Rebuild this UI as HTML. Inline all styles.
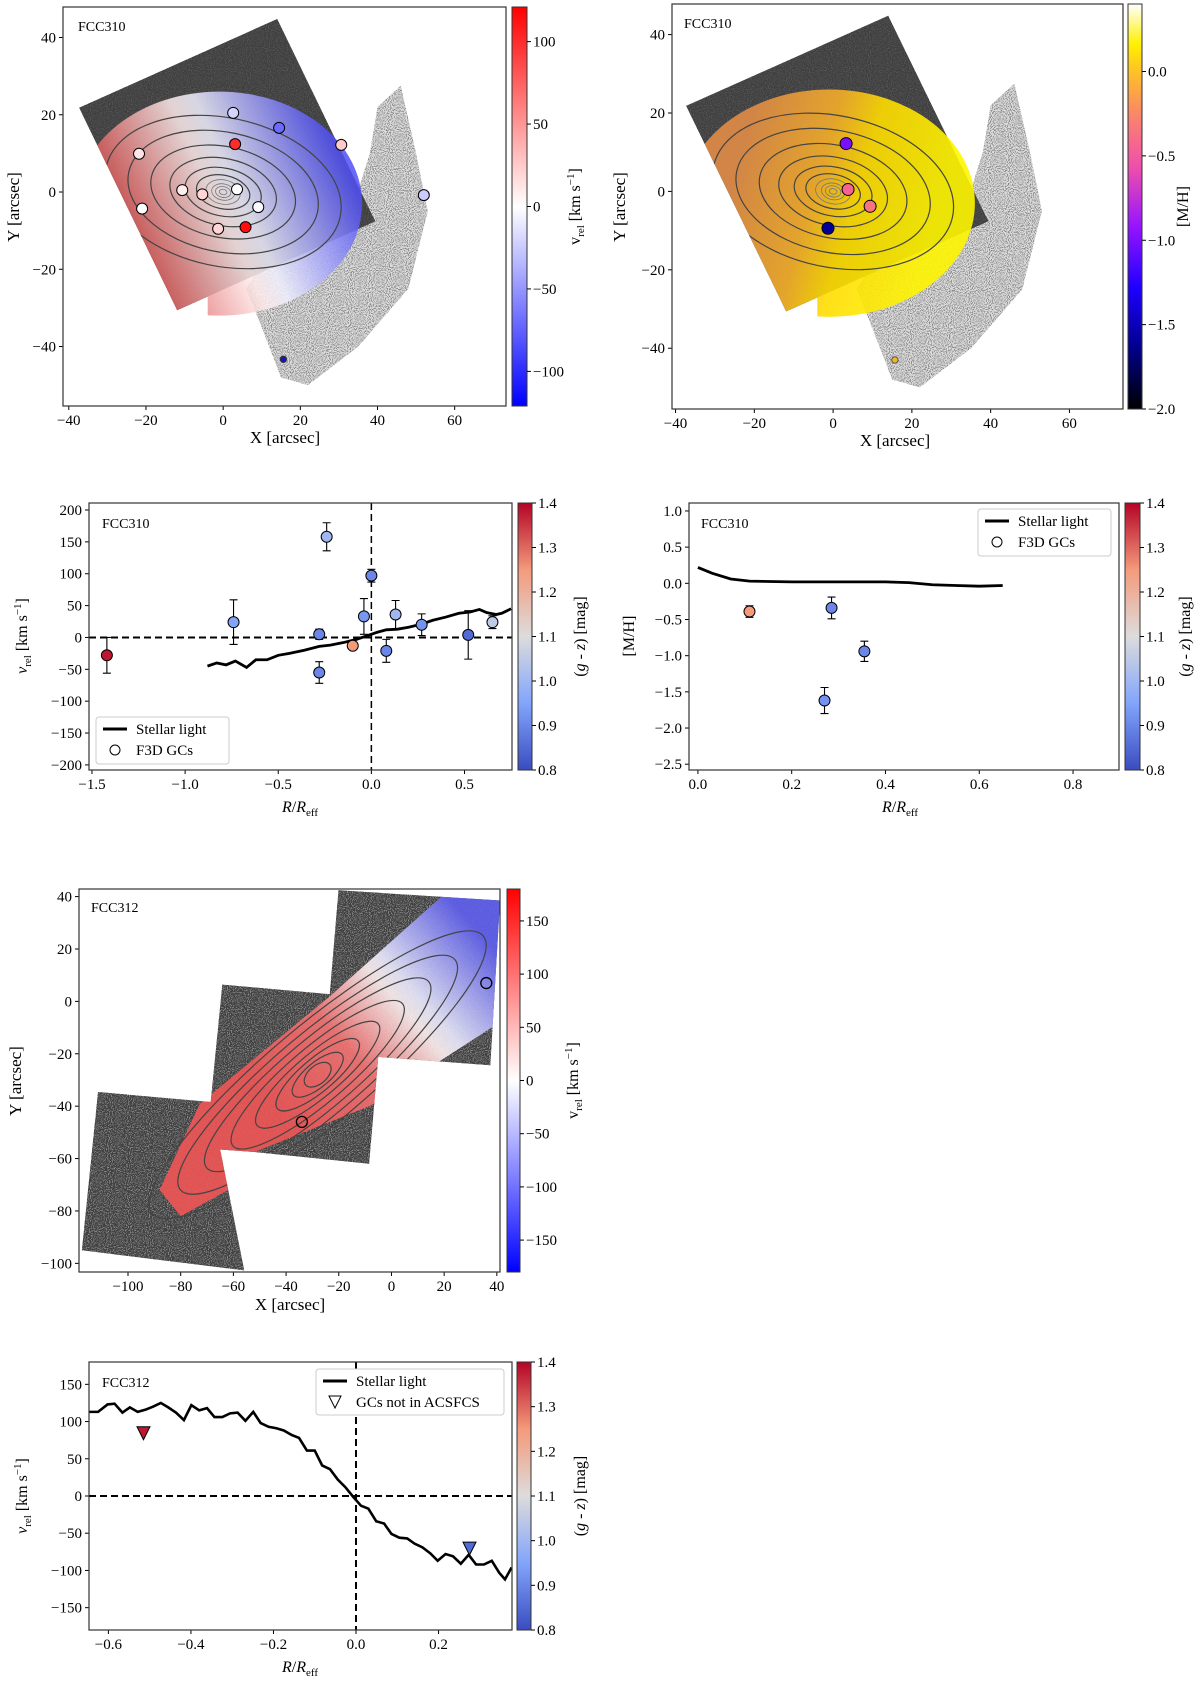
<!DOCTYPE html>
<html><head><meta charset="utf-8">
<style>
html,body{margin:0;padding:0;background:#fff;}
svg{display:block;font-family:"Liberation Serif","DejaVu Serif",serif;}
</style></head>
<body>
<svg id="fig" width="1200" height="1681" viewBox="0 0 1200 1681" xmlns="http://www.w3.org/2000/svg">
<defs>
<filter id="speckDark" x="0" y="0" width="1" height="1" filterUnits="objectBoundingBox">
<feTurbulence type="fractalNoise" baseFrequency="0.95" numOctaves="1" seed="4"/>
<feColorMatrix type="matrix" values="0 0 0 0 0.05  0 0 0 0 0.05  0 0 0 0 0.05  7 0 0 0 -2.6"/>
</filter>
<filter id="speckLight" x="0" y="0" width="1" height="1" filterUnits="objectBoundingBox">
<feTurbulence type="fractalNoise" baseFrequency="0.95" numOctaves="1" seed="9"/>
<feColorMatrix type="matrix" values="0 0 0 0 0.25  0 0 0 0 0.25  0 0 0 0 0.25  7 0 0 0 -3.3"/>
</filter>
</defs>
</svg>
<script>
// ---------------- DATA ----------------
// Panel C: FCC310 velocity profile
const cR = [-1.42, -0.74, -0.24, -0.28, -0.28, -0.10, -0.04, 0.00, 0.08, 0.13, 0.27, 0.52, 0.65];
const cV = [-28, 24, 158, 5, -55, -13, 33, 97, -21, 36, 20, 4, 24];
const cErr = [28, 35, 22, 8, 17, 5, 28, 10, 18, 22, 17, 38, 10];
const cColor = [1.38, 0.95, 1.00, 0.90, 0.90, 1.25, 0.93, 0.90, 0.90, 1.00, 0.92, 0.85, 1.05];
const cLineR = [-0.88,-0.83,-0.78,-0.73,-0.67,-0.62,-0.56,-0.50,-0.44,-0.36,-0.28,-0.22,-0.15,-0.08,-0.02,0.03,0.08,0.14,0.20,0.27,0.33,0.40,0.47,0.53,0.58,0.62,0.67,0.70,0.75];
const cLineV = [-45,-40,-43,-37,-47,-35,-35,-28,-25,-20,-14,-12,-8,-3,3,8,12,13,16,21,27,32,38,40,44,39,36,38,45];
// Panel D: FCC310 metallicity profile
const dR = [0.11, 0.285, 0.27, 0.355];
const dM = [-0.39, -0.34, -1.62, -0.94];
const dErr = [0.08, 0.15, 0.18, 0.14];
const dColor = [1.25, 0.90, 0.92, 0.90];
const dLineR = [0.00,0.03,0.07,0.11,0.20,0.30,0.40,0.45,0.50,0.55,0.60,0.65];
const dLineM = [0.22,0.14,0.06,0.03,0.02,0.02,0.02,0.01,-0.02,-0.03,-0.04,-0.03];
// Panel F: FCC312 velocity profile
const fLineR = [-0.647,-0.625,-0.602,-0.585,-0.566,-0.548,-0.529,-0.510,-0.492,-0.473,-0.455,-0.436,-0.417,-0.399,-0.380,-0.361,-0.343,-0.324,-0.305,-0.287,-0.268,-0.249,-0.231,-0.212,-0.193,-0.175,-0.156,-0.138,-0.119,-0.100,-0.082,-0.063,-0.044,-0.026,-0.007,0.012,0.030,0.049,0.068,0.086,0.105,0.124,0.142,0.161,0.180,0.198,0.217,0.235,0.254,0.273,0.291,0.310,0.329,0.347,0.361,0.377];
const fLineV = [113,113,123,124,112,119,113,116,120,125,119,112,102,122,115,118,106,106,111,112,101,113,98,93,91,88,82,78,61,61,41,36,22,12,-1,-13,-17,-34,-37,-51,-56,-57,-64,-69,-77,-87,-78,-81,-91,-79,-92,-92,-87,-103,-112,-96];
const fTriR = [-0.515, 0.275];
const fTriV = [85, -70];
const fTriColor = [1.38, 0.85];
// Panel A: FCC310 GC positions and velocities
const aX = [2.6, 14.5, 3.1, 30.6, -21.8, -10.6, -5.4, 3.6, 9.1, -21.0, -1.3, 5.8, 52.0];
const aY = [20.5, 16.6, 12.4, 12.2, 9.9, 0.5, -0.6, 0.7, -3.9, -4.3, -9.5, -9.1, -0.8];
const aVel = [-20, -70, 100, 25, 12, 8, 20, 0, -3, 0, 20, 115, -25];
// Panel B: FCC310 GC positions and metallicity
const bX = [3.3, 3.8, 9.4, -1.3];
const bY = [12.2, 0.5, -3.8, -9.4];
const bMH = [-1.0, -0.45, -0.35, -1.6];
// Panel E: FCC312 GC positions
const eX = [-34, 36];
const eY = [-46, 7];

// ---------------- HELPERS ----------------
const NS = 'http://www.w3.org/2000/svg';
const svg = document.getElementById('fig');
const defs = svg.querySelector('defs');
function mk(tag, attrs, parent) {
  const e = document.createElementNS(NS, tag);
  for (const k in attrs) e.setAttribute(k, attrs[k]);
  (parent || svg).appendChild(e);
  return e;
}
function lerpStops(stops, t) {
  t = Math.max(0, Math.min(1, t));
  for (let i = 1; i < stops.length; i++) {
    if (t <= stops[i][0]) {
      const a = stops[i - 1], b = stops[i];
      const f = (t - a[0]) / (b[0] - a[0] || 1);
      return 'rgb(' + [1, 2, 3].map(j => Math.round(a[j] + (b[j] - a[j]) * f)).join(',') + ')';
    }
  }
  const l = stops[stops.length - 1];
  return 'rgb(' + l[1] + ',' + l[2] + ',' + l[3] + ')';
}
const COOLWARM = [[0,58,76,192],[0.25,130,165,251],[0.5,221,220,220],[0.75,244,154,123],[1,180,4,38]];
const BWR = [[0,0,0,255],[0.5,255,255,255],[1,255,0,0]];
const GNU = [[0,0,0,0],[0.15,0,0,140],[0.3,30,0,255],[0.45,150,20,255],[0.6,240,80,170],[0.72,250,130,110],[0.83,255,190,40],[0.9,255,240,0],[1,255,255,255]];

function makeAxes(p) {
  const sx = v => p.x0 + (v - p.xmin) / (p.xmax - p.xmin) * (p.x1 - p.x0);
  const sy = v => p.y1 - (v - p.ymin) / (p.ymax - p.ymin) * (p.y1 - p.y0);
  return { sx, sy, p };
}
function drawFrame(ax, name, xt, yt, xfmt, yfmt, fs) {
  const p = ax.p;
  const g = mk('g', {});
  
  
  xt.forEach(v => {
    const x = ax.sx(v);
    const t = mk('line', { x1: x, x2: x, y1: p.y1, y2: p.y1 + 4, stroke: '#000', 'stroke-width': 1 }, g);
    
    
    const l = mk('text', { x: x, y: p.y1 + 19, 'text-anchor': 'middle', 'font-size': fs }, g);
    
    
    l.textContent = xfmt(v);
  });
  yt.forEach(v => {
    const y = ax.sy(v);
    const t = mk('line', { x1: p.x0 - 4, x2: p.x0, y1: y, y2: y, stroke: '#000', 'stroke-width': 1 }, g);
    
    
    const l = mk('text', { x: p.x0 - 7, y: y + 5, 'text-anchor': 'end', 'font-size': fs }, g);
    
    
    l.textContent = yfmt(v);
  });
  const r = mk('rect', { x: p.x0, y: p.y0, width: p.x1 - p.x0, height: p.y1 - p.y0, fill: 'none', stroke: '#333', 'stroke-width': 1.2 }, g);
  
  
}
function fmtMinus(s) { return String(s).replace('-', '\u2212'); }
function drawColorbar(name, x0, x1, y0, y1, vmin, vmax, cmap, ticks, fmt, label, lx, fs) {
  const gid = 'cb-' + name;
  const lg = mk('linearGradient', { id: gid, x1: 0, y1: 1, x2: 0, y2: 0 }, defs);
  for (let i = 0; i <= 20; i++) mk('stop', { offset: i / 20, 'stop-color': lerpStops(cmap, i / 20) }, lg);
  const g = mk('g', {});
  
  
  const r = mk('rect', { x: x0, y: y0, width: x1 - x0, height: y1 - y0, fill: 'url(#' + gid + ')', stroke: '#333', 'stroke-width': 1 }, g);
  
  
  ticks.forEach(v => {
    const y = y1 - (v - vmin) / (vmax - vmin) * (y1 - y0);
    const t = mk('line', { x1: x1, x2: x1 + 4, y1: y, y2: y, stroke: '#000' }, g);
    
    
    const l = mk('text', { x: x1 + 6, y: y + 5, 'font-size': fs }, g);
    
    
    l.textContent = fmt(v);
  });
  const cy = (y0 + y1) / 2;
  const lab = mk('text', { x: lx, y: cy, 'text-anchor': 'middle', 'font-size': 16, transform: 'rotate(-90 ' + lx + ' ' + cy + ')' }, g);
  
  
  lab.innerHTML = label;
}
function axisLabel(name, x, y, html, rot, fs) {
  const t = mk('text', { x: x, y: y, 'text-anchor': 'middle', 'font-size': fs || 16, transform: rot ? 'rotate(-90 ' + x + ' ' + y + ')' : '' });
  
  
  t.innerHTML = html;
}
function panelTitle(name, x, y, txt) {
  const t = mk('text', { x: x, y: y, 'font-size': 14 });
  
  
  t.textContent = txt;
}
function ptsStr(ax, pts) { return pts.map(q => ax.sx(q[0]).toFixed(1) + ',' + ax.sy(q[1]).toFixed(1)).join(' '); }
function clipRect(id, p) {
  const c = mk('clipPath', { id: id }, defs);
  mk('rect', { x: p.x0, y: p.y0, width: p.x1 - p.x0, height: p.y1 - p.y0 }, c);
}

// ---------------- PANEL A & B (FCC310 maps) ----------------
const squareA = [[-37.3, 21.8], [14, 44.8], [39.4, -7.6], [-11.9, -30.6]];
const fieldA2 = [[40, 22], [46, 27.5], [50, 10], [53, -5], [48, -25], [35, -40], [22, -50], [15, -48], [10, -35], [6, -25], [15, -10], [33, -6], [38, 10]];
function drawMap310(key, ax, gradStops, gradFrom, gradTo, colAlpha) {
  const p = ax.p;
  clipRect('clip-' + key, p);
  const g = mk('g', { 'clip-path': 'url(#clip-' + key + ')' });
  
  
  const c1 = mk('clipPath', { id: 'sq-' + key }, defs);
  mk('polygon', { points: ptsStr(ax, squareA) }, c1);
  const c2 = mk('clipPath', { id: 'f2-' + key }, defs);
  mk('polygon', { points: ptsStr(ax, fieldA2) }, c2);
  const g2 = mk('g', { 'clip-path': 'url(#f2-' + key + ')' }, g);
  mk('rect', { x: p.x0, y: p.y0, width: p.x1 - p.x0, height: p.y1 - p.y0, fill: '#ddd' }, g2);
  const sp2 = mk('rect', { x: p.x0, y: p.y0, width: p.x1 - p.x0, height: p.y1 - p.y0, fill: '#000', filter: 'url(#speckLight)' }, g2);
  
  
  const g1 = mk('g', { 'clip-path': 'url(#sq-' + key + ')' }, g);
  mk('rect', { x: p.x0, y: p.y0, width: p.x1 - p.x0, height: p.y1 - p.y0, fill: '#555' }, g1);
  const sp1 = mk('rect', { x: p.x0, y: p.y0, width: p.x1 - p.x0, height: p.y1 - p.y0, fill: '#000', filter: 'url(#speckDark)' }, g1);
  
  
  const gid = 'grad-' + key;
  const lg = mk('linearGradient', { id: gid, gradientUnits: 'userSpaceOnUse', x1: ax.sx(gradFrom[0]), y1: ax.sy(gradFrom[1]), x2: ax.sx(gradTo[0]), y2: ax.sy(gradTo[1]) }, defs);
  gradStops.forEach(s => mk('stop', { offset: s[0], 'stop-color': s[1] }, lg));
  const cu = mk('clipPath', { id: 'cu-' + key }, defs);
  mk('polygon', { points: ptsStr(ax, squareA) }, cu);
  mk('polygon', { points: ptsStr(ax, [[-4, 50], [80, 50], [80, -60], [-4, -60]]) }, cu);
  const cg = mk('g', { 'clip-path': 'url(#cu-' + key + ')' }, g);
  const rx = 37 * (p.x1 - p.x0) / (p.xmax - p.xmin), ry = 29 * (p.y1 - p.y0) / (p.ymax - p.ymin);
  const ell = mk('ellipse', { cx: ax.sx(-1), cy: ax.sy(-3), rx: rx, ry: ry, fill: 'url(#' + gid + ')', opacity: colAlpha }, cg);
  
  
  const kx = (p.x1 - p.x0) / (p.xmax - p.xmin);
  [1, 2, 3, 4.5, 7, 10, 14, 19, 25, 31].forEach((r, i) => {
    const e = mk('ellipse', { cx: ax.sx(0), cy: ax.sy(0), rx: r * kx, ry: r * kx * (i < 4 ? 0.7 : 0.62), fill: 'none', stroke: i < 4 ? '#777' : '#444', 'stroke-width': i < 4 ? 0.8 : 1.2, transform: 'rotate(12 ' + ax.sx(0) + ' ' + ax.sy(0) + ')' }, cg);
    
    
  });
}
const axA = makeAxes({ x0: 63, x1: 506, y0: 7, y1: 406, xmin: -41.5, xmax: 73.3, ymin: -55.4, ymax: 47.9 });
drawMap310('panel-a', axA, [[0, 'rgb(215,60,60)'], [0.45, 'rgb(255,235,235)'], [0.55, 'rgb(240,240,255)'], [1, 'rgb(80,80,245)']], [-28, -12], [28, 14], 0.85);
aX.forEach((x, i) => {
  const c = mk('circle', { cx: axA.sx(x), cy: axA.sy(aY[i]), r: 5.5, fill: lerpStops(BWR, (aVel[i] + 121) / 242), stroke: '#000', 'stroke-width': 1 });
  
  
});
{
  const c = mk('circle', { cx: axA.sx(15.6), cy: axA.sy(-43.3), r: 3.2, fill: 'rgb(20,20,200)', stroke: '#333' });
  
  
}
drawFrame(axA, 'panel-a', [-40, -20, 0, 20, 40, 60], [-40, -20, 0, 20, 40], v => fmtMinus(v), v => fmtMinus(v), 15);
panelTitle('panel-a-title', 78, 31, 'FCC310');
drawColorbar('panel-a', 512, 527, 7, 406, -121, 121, BWR, [-100, -50, 0, 50, 100], v => fmtMinus(v), 'v<tspan font-size="11" dy="4">rel</tspan><tspan dy="-4"> [km s</tspan><tspan font-size="11" dy="-6">−1</tspan><tspan dy="6">]</tspan>', 580, 15);
axisLabel('panel-a-x-label', 285, 443, 'X [arcsec]', false, 17);
axisLabel('panel-a-y-label', 19, 207, 'Y [arcsec]', true, 17);

const axB = makeAxes({ x0: 672, x1: 1123, y0: 4, y1: 409, xmin: -40.9, xmax: 73.6, ymin: -55.5, ymax: 47.8 });
drawMap310('panel-b', axB, [[0, 'rgb(225,140,70)'], [0.4, 'rgb(245,175,40)'], [0.6, 'rgb(255,220,0)'], [1, 'rgb(255,245,0)']], [-25, 5], [25, -10], 0.9);
bX.forEach((x, i) => {
  const c = mk('circle', { cx: axB.sx(x), cy: axB.sy(bY[i]), r: 6, fill: lerpStops(GNU, (bMH[i] + 2) / 2.4), stroke: '#000', 'stroke-width': 1 });
  
  
});
{
  const c = mk('circle', { cx: axB.sx(15.7), cy: axB.sy(-43), r: 3.2, fill: 'rgb(240,180,40)', stroke: '#555' });
  
  
}
drawFrame(axB, 'panel-b', [-40, -20, 0, 20, 40, 60], [-40, -20, 0, 20, 40], v => fmtMinus(v), v => fmtMinus(v), 15);
panelTitle('panel-b-title', 684, 28, 'FCC310');
drawColorbar('panel-b', 1128, 1142, 4, 409, -2.0, 0.4, GNU, [-2.0, -1.5, -1.0, -0.5, 0.0], v => fmtMinus(v.toFixed(1)), '[M/H]', 1188, 15);
axisLabel('panel-b-x-label', 895, 446, 'X [arcsec]', false, 17);
axisLabel('panel-b-y-label', 625, 207, 'Y [arcsec]', true, 17);

// ---------------- PANEL C ----------------
const axC = makeAxes({ x0: 89, x1: 512, y0: 503, y1: 770, xmin: -1.516, xmax: 0.755, ymin: -208, ymax: 211 });
clipRect('clip-c', axC.p);
{
  const g = mk('g', { 'clip-path': 'url(#clip-c)' });
  
  
  const h = mk('line', { x1: axC.p.x0, x2: axC.p.x1, y1: axC.sy(0), y2: axC.sy(0), stroke: '#000', 'stroke-width': 2, 'stroke-dasharray': '7,4' }, g);
  
  
  const v = mk('line', { x1: axC.sx(0), x2: axC.sx(0), y1: axC.p.y0, y2: axC.p.y1, stroke: '#000', 'stroke-width': 1.5, 'stroke-dasharray': '7,4' }, g);
  
  
  const pl = mk('polyline', { points: cLineR.map((r, i) => axC.sx(r) + ',' + axC.sy(cLineV[i])).join(' '), fill: 'none', stroke: '#000', 'stroke-width': 2.8 }, g);
  
  
  cR.forEach((r, i) => {
    const x = axC.sx(r), yt = axC.sy(cV[i] + cErr[i]), yb = axC.sy(cV[i] - cErr[i]);
    const eb = mk('path', { d: `M${x},${yt}V${yb}M${x - 4},${yt}H${x + 4}M${x - 4},${yb}H${x + 4}`, stroke: '#000', 'stroke-width': 1.1, fill: 'none' }, g);
    
    
    const c = mk('circle', { cx: x, cy: axC.sy(cV[i]), r: 5.5, fill: lerpStops(COOLWARM, (cColor[i] - 0.8) / 0.6), stroke: '#000', 'stroke-width': 1 }, g);
    
    
  });
}
drawFrame(axC, 'panel-c', [-1.5, -1.0, -0.5, 0.0, 0.5], [-200, -150, -100, -50, 0, 50, 100, 150, 200], v => fmtMinus(v.toFixed(1)), v => fmtMinus(v), 15);
panelTitle('panel-c-title', 102, 528, 'FCC310');
drawColorbar('panel-c', 518, 532, 503, 770, 0.8, 1.4, COOLWARM, [0.8, 0.9, 1.0, 1.1, 1.2, 1.3, 1.4], v => v.toFixed(1), '(<tspan font-style="italic">g</tspan> - <tspan font-style="italic">z</tspan>) [mag]', 585, 15);
axisLabel('panel-c-x-label', 300, 812, '<tspan font-style="italic">R</tspan>/<tspan font-style="italic">R</tspan><tspan font-size="11" dy="4">eff</tspan>', false, 16);
axisLabel('panel-c-y-label', 27, 636, '<tspan font-style="italic">v</tspan><tspan font-size="11" dy="4">rel</tspan><tspan dy="-4"> [km s</tspan><tspan font-size="11" dy="-6">−1</tspan><tspan dy="6">]</tspan>', true, 16);
function legend(name, x, y, w, h, items) {
  const g = mk('g', {});
  
  
  const r = mk('rect', { x: x, y: y, width: w, height: h, rx: 3, fill: '#fff', stroke: '#ccc', 'stroke-width': 1 }, g);
  
  
  items.forEach((it, i) => {
    const yy = y + 12 + i * 21;
    if (it.kind === 'line') {
      const l = mk('line', { x1: x + 7, x2: x + 31, y1: yy, y2: yy, stroke: '#000', 'stroke-width': 3 }, g);
      
      
    } else if (it.kind === 'circle') {
      const c = mk('circle', { cx: x + 19, cy: yy, r: 5, fill: '#fff', stroke: '#000' }, g);
      
      
    } else {
      const c = mk('path', { d: `M${x + 13},${yy - 6}H${x + 25}L${x + 19},${yy + 6}Z`, fill: '#fff', stroke: '#000' }, g);
      
      
    }
    const t = mk('text', { x: x + 40, y: yy + 5, 'font-size': 15 }, g);
    
    
    t.textContent = it.text;
  });
}
legend('panel-c-legend', 96, 717, 133, 47, [{ kind: 'line', text: 'Stellar light' }, { kind: 'circle', text: 'F3D GCs' }]);

// ---------------- PANEL D ----------------
const axD = makeAxes({ x0: 689, x1: 1119, y0: 503, y1: 770, xmin: -0.019, xmax: 0.898, ymin: -2.58, ymax: 1.11 });
clipRect('clip-d', axD.p);
{
  const g = mk('g', { 'clip-path': 'url(#clip-d)' });
  
  
  const pl = mk('polyline', { points: dLineR.map((r, i) => axD.sx(r) + ',' + axD.sy(dLineM[i])).join(' '), fill: 'none', stroke: '#000', 'stroke-width': 2.8 }, g);
  
  
  dR.forEach((r, i) => {
    const x = axD.sx(r), yt = axD.sy(dM[i] + dErr[i]), yb = axD.sy(dM[i] - dErr[i]);
    const eb = mk('path', { d: `M${x},${yt}V${yb}M${x - 4},${yt}H${x + 4}M${x - 4},${yb}H${x + 4}`, stroke: '#000', 'stroke-width': 1.1, fill: 'none' }, g);
    
    
    const c = mk('circle', { cx: x, cy: axD.sy(dM[i]), r: 5.5, fill: lerpStops(COOLWARM, (dColor[i] - 0.8) / 0.6), stroke: '#000', 'stroke-width': 1 }, g);
    
    
  });
}
drawFrame(axD, 'panel-d', [0.0, 0.2, 0.4, 0.6, 0.8], [-2.5, -2.0, -1.5, -1.0, -0.5, 0.0, 0.5, 1.0], v => v.toFixed(1), v => fmtMinus(v.toFixed(1)), 15);
panelTitle('panel-d-title', 701, 528, 'FCC310');
drawColorbar('panel-d', 1125, 1140, 503, 770, 0.8, 1.4, COOLWARM, [0.8, 0.9, 1.0, 1.1, 1.2, 1.3, 1.4], v => v.toFixed(1), '(<tspan font-style="italic">g</tspan> - <tspan font-style="italic">z</tspan>) [mag]', 1190, 15);
axisLabel('panel-d-x-label', 900, 812, '<tspan font-style="italic">R</tspan>/<tspan font-style="italic">R</tspan><tspan font-size="11" dy="4">eff</tspan>', false, 16);
axisLabel('panel-d-y-label', 634, 636, '[M/H]', true, 16);
legend('panel-d-legend', 978, 509, 133, 47, [{ kind: 'line', text: 'Stellar light' }, { kind: 'circle', text: 'F3D GCs' }]);

// ---------------- PANEL E (FCC312 map) ----------------
const axE = makeAxes({ x0: 79, x1: 500, y0: 889, y1: 1272, xmin: -118.6, xmax: 41.2, ymin: -103.3, ymax: 42.9 });
const sqE1 = [[-111.4, -34.6], [-68.6, -38.4], [-55.9, -102.7], [-117.5, -95]];
const sqE2 = [[-64.2, 6.4], [-23, 2.7], [-5, -21], [-8.5, -62], [-52, -57.5], [-72, -56], [-68.6, -38.4]];
const sqE3 = [[-20.1, 42.4], [41.2, 38.5], [37.5, -24.4], [-4.8, -21.2], [-23.4, 3]];
const bandE = [[-72.7, -39], [-23, 2.3], [19, 40], [42, 40], [42, -8], [38, -10], [-7.7, -39.7], [-52, -57.5], [-62, -72], [-80, -82], [-88, -72]];
clipRect('clip-e', axE.p);
{
  const g = mk('g', { 'clip-path': 'url(#clip-e)' });
  
  
  const cu = mk('clipPath', { id: 'fpE' }, defs);
  [sqE1, sqE2, sqE3].forEach(s => mk('polygon', { points: ptsStr(axE, s) }, cu));
  const fg = mk('g', { 'clip-path': 'url(#fpE)' }, g);
  mk('rect', { x: 79, y: 889, width: 421, height: 383, fill: '#888' }, fg);
  const sp = mk('rect', { x: 79, y: 889, width: 421, height: 383, fill: '#000', filter: 'url(#speckDark)' }, fg);
  
  
  const lg = mk('linearGradient', { id: 'gradE', gradientUnits: 'userSpaceOnUse', x1: axE.sx(-45), y1: axE.sy(-40), x2: axE.sx(32), y2: axE.sy(28) }, defs);
  [[0, 'rgb(240,85,85)'], [0.35, 'rgb(245,115,115)'], [0.6, 'rgb(255,240,240)'], [0.67, 'rgb(235,235,255)'], [1, 'rgb(95,95,240)']].forEach(s => mk('stop', { offset: s[0], 'stop-color': s[1] }, lg));
  const band = mk('polygon', { points: ptsStr(axE, bandE), fill: 'url(#gradE)', opacity: 0.9 }, fg);
  
  
  const kx = 421 / 159.8;
  const cx = axE.sx(-28), cy = axE.sy(-28);
  [6, 12, 20, 30, 42, 55, 68, 82].forEach((r, i) => {
    const e = mk('ellipse', { cx: cx, cy: cy, rx: r * kx, ry: r * kx * 0.2 + 6, fill: 'none', stroke: '#444', 'stroke-width': 1.2, transform: `rotate(-40 ${cx} ${cy})` }, fg);
    
    
  });
  eX.forEach((x, i) => {
    const c = mk('circle', { cx: axE.sx(x), cy: axE.sy(eY[i]), r: 5.5, fill: 'none', stroke: '#000', 'stroke-width': 1.3 }, g);
    
    
  });
}
drawFrame(axE, 'panel-e', [-100, -80, -60, -40, -20, 0, 20, 40], [-100, -80, -60, -40, -20, 0, 20, 40], v => fmtMinus(v), v => fmtMinus(v), 15);
panelTitle('panel-e-title', 91, 912, 'FCC312');
drawColorbar('panel-e', 507, 520, 889, 1272, -180, 180, BWR, [-150, -100, -50, 0, 50, 100, 150], v => fmtMinus(v), 'v<tspan font-size="11" dy="4">rel</tspan><tspan dy="-4"> [km s</tspan><tspan font-size="11" dy="-6">−1</tspan><tspan dy="6">]</tspan>', 578, 15);
axisLabel('panel-e-x-label', 290, 1310, 'X [arcsec]', false, 17);
axisLabel('panel-e-y-label', 21, 1081, 'Y [arcsec]', true, 17);

// ---------------- PANEL F ----------------
const axF = makeAxes({ x0: 89, x1: 512, y0: 1362, y1: 1630, xmin: -0.647, xmax: 0.378, ymin: -180, ymax: 180 });
clipRect('clip-f', axF.p);
{
  const g = mk('g', { 'clip-path': 'url(#clip-f)' });
  
  
  const h = mk('line', { x1: axF.p.x0, x2: axF.p.x1, y1: axF.sy(0), y2: axF.sy(0), stroke: '#000', 'stroke-width': 2, 'stroke-dasharray': '7,4' }, g);
  
  
  const v = mk('line', { x1: axF.sx(0), x2: axF.sx(0), y1: axF.p.y0, y2: axF.p.y1, stroke: '#000', 'stroke-width': 2, 'stroke-dasharray': '7,4' }, g);
  
  
  const pl = mk('polyline', { points: fLineR.map((r, i) => axF.sx(r) + ',' + axF.sy(fLineV[i])).join(' '), fill: 'none', stroke: '#000', 'stroke-width': 2.6 }, g);
  
  
  fTriR.forEach((r, i) => {
    const x = axF.sx(r), y = axF.sy(fTriV[i]);
    const t = mk('path', { d: `M${x - 6.5},${y - 6}H${x + 6.5}L${x},${y + 7}Z`, fill: lerpStops(COOLWARM, (fTriColor[i] - 0.8) / 0.6), stroke: '#000', 'stroke-width': 1 }, g);
    
    
  });
}
drawFrame(axF, 'panel-f', [-0.6, -0.4, -0.2, 0.0, 0.2], [-150, -100, -50, 0, 50, 100, 150], v => fmtMinus(v.toFixed(1)), v => fmtMinus(v), 15);
panelTitle('panel-f-title', 102, 1387, 'FCC312');
drawColorbar('panel-f', 517, 531, 1362, 1630, 0.8, 1.4, COOLWARM, [0.8, 0.9, 1.0, 1.1, 1.2, 1.3, 1.4], v => v.toFixed(1), '(<tspan font-style="italic">g</tspan> - <tspan font-style="italic">z</tspan>) [mag]', 585, 15);
axisLabel('panel-f-x-label', 300, 1672, '<tspan font-style="italic">R</tspan>/<tspan font-style="italic">R</tspan><tspan font-size="11" dy="4">eff</tspan>', false, 16);
axisLabel('panel-f-y-label', 27, 1496, '<tspan font-style="italic">v</tspan><tspan font-size="11" dy="4">rel</tspan><tspan dy="-4"> [km s</tspan><tspan font-size="11" dy="-6">−1</tspan><tspan dy="6">]</tspan>', true, 16);
legend('panel-f-legend', 316, 1369, 188, 46, [{ kind: 'line', text: 'Stellar light' }, { kind: 'tri', text: 'GCs not in ACSFCS' }]);
</script>
</body></html>
